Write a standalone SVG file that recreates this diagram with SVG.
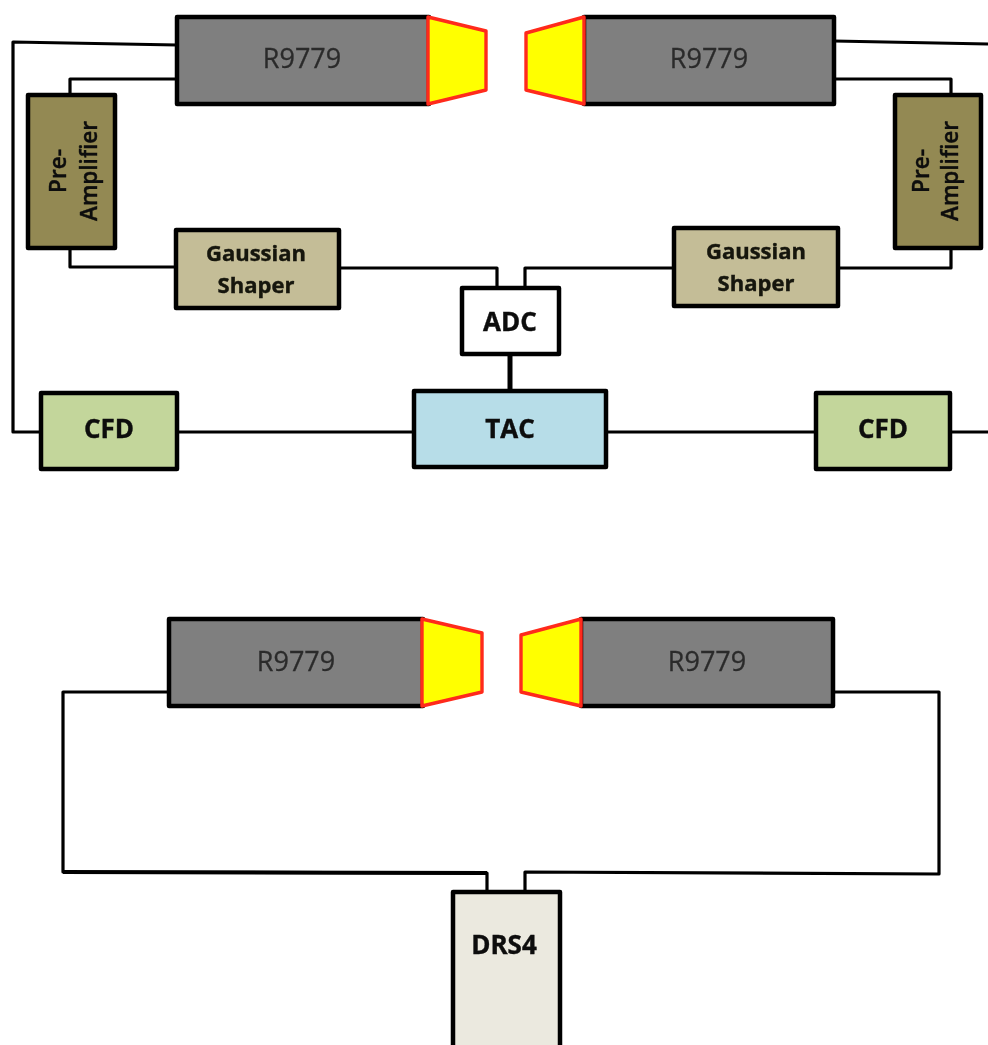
<svg xmlns="http://www.w3.org/2000/svg" width="988" height="1045" viewBox="0 0 988 1045">
<style>
.n{stroke:#000;stroke-width:4.5;stroke-linejoin:round}
.c{fill:none;stroke:#000;stroke-width:3.2;stroke-linejoin:round}
.y{fill:#ffff00;stroke:#ff2a1a;stroke-width:3.4;stroke-linejoin:round}
text{font-family:"Open Sans","Noto Sans",sans-serif;text-anchor:middle}
.t{font-size:27px;fill:#2c2c2c;stroke:#2c2c2c;stroke-width:.3}
.b{font-weight:700;fill:#0c0c0c;stroke:#0c0c0c;stroke-width:.4;font-size:26px}
.s{font-weight:700;fill:#14140c;stroke:#14140c;stroke-width:.4;font-size:22px}
.p{font-size:22.5px;font-weight:600;fill:#0c0c0c;stroke:#0c0c0c;stroke-width:.4}
</style>
<defs><filter id="soft" x="0" y="0" width="988" height="1045" filterUnits="userSpaceOnUse"><feGaussianBlur stdDeviation="0.65"/></filter></defs>
<rect width="988" height="1045" fill="#fff"/>
<g filter="url(#soft)">
<g id="connectors">
<path class="c" d="M177 45 L13 42 V432 H41"/>
<path class="c" d="M177 79 H70 V95"/>
<path class="c" d="M70 247 V267 H176"/>
<path class="c" d="M339 268 H497 V288"/>
<path class="c" d="M673 268 H525 V288"/>
<path class="c" d="M838 268 H951 V247"/>
<path class="c" d="M834 79 H951 V95"/>
<path class="c" d="M834 41 L988 44"/>
<path class="c" d="M510 354 V391" style="stroke-width:5"/>
<path class="c" d="M177 432 H414"/>
<path class="c" d="M606 432 H816"/>
<path class="c" d="M950 432 H988"/>
<path class="c" d="M169 692 H63 V872 L487 873 V892" />
<path class="c" d="M63 872 L487 873" style="stroke-width:4"/>
<path class="c" d="M834 692 H939 V874 L525 872 V892"/>
</g>
<g id="pmt-top-left"><rect class="n" x="177" y="17" width="252" height="87" fill="#7f7f7f"/><path class="y" d="M428 17 L486 31 V90 L428 104Z"/><text class="t" x="302" y="68">R9779</text></g>
<g id="pmt-top-right"><rect class="n" x="584" y="17" width="250" height="87" fill="#7f7f7f"/><path class="y" d="M584 17 L526 33 V90 L584 104Z"/><text class="t" x="709" y="68">R9779</text></g>
<g id="preamp-left"><rect class="n" x="28" y="95" width="87" height="153" fill="#938953"/><text class="p" transform="translate(66 171) rotate(-90)">Pre-</text><text class="p" transform="translate(97 171) rotate(-90)">Amplifier</text></g>
<g id="preamp-right"><rect class="n" x="895" y="95" width="86" height="153" fill="#938953"/><text class="p" transform="translate(929 171) rotate(-90)">Pre-</text><text class="p" transform="translate(958 171) rotate(-90)">Amplifier</text></g>
<g id="shaper-left"><rect class="n" x="176" y="230" width="163" height="78" fill="#c4bd97"/><text class="s" x="256" y="261">Gaussian</text><text class="s" x="256" y="293">Shaper</text></g>
<g id="shaper-right"><rect class="n" x="674" y="228" width="164" height="78" fill="#c4bd97"/><text class="s" x="756" y="259">Gaussian</text><text class="s" x="756" y="291">Shaper</text></g>
<g id="adc"><rect class="n" x="462" y="288" width="97" height="66" fill="#fff"/><text class="b" x="510" y="331">ADC</text></g>
<g id="tac"><rect class="n" x="414" y="391" width="192" height="76" fill="#b7dde8"/><text class="b" x="510" y="438">TAC</text></g>
<g id="cfd-left"><rect class="n" x="41" y="393" width="136" height="76" fill="#c3d69b"/><text class="b" x="109" y="438">CFD</text></g>
<g id="cfd-right"><rect class="n" x="816" y="393" width="134" height="76" fill="#c3d69b"/><text class="b" x="883" y="438">CFD</text></g>
<g id="pmt-bottom-left"><rect class="n" x="169" y="619" width="254" height="87" fill="#7f7f7f"/><path class="y" d="M422 619 L482 633 V692 L422 706Z"/><text class="t" x="296" y="671">R9779</text></g>
<g id="pmt-bottom-right"><rect class="n" x="581" y="619" width="252" height="87" fill="#7f7f7f"/><path class="y" d="M581 619 L521 635 V692 L581 706Z"/><text class="t" x="707" y="671">R9779</text></g>
<g id="drs4"><rect class="n" x="453" y="892" width="107" height="160" fill="#ebe9df"/><text class="b" x="504" y="954">DRS4</text></g>
</g>
</svg>
